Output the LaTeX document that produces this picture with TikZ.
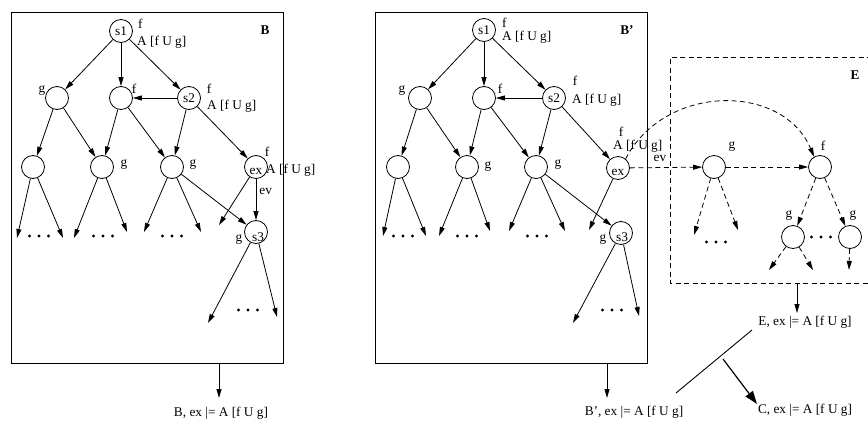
\documentclass[tikz,border=0pt]{standalone}
\usepackage{fontspec}
\setmainfont{Liberation Serif}
\usetikzlibrary{arrows.meta}
\begin{document}
\begin{tikzpicture}[x=1pt,y=-1pt,
  every node/.style={font=\fontsize{13.3}{15}\selectfont, inner sep=0pt},
  st/.style={circle, draw, line width=0.8pt, minimum size=23pt},
  lw/.style={anchor=west},
  bold/.style={font=\bfseries\fontsize{13.3}{15}\selectfont},
  arr/.style={line width=0.8pt, -{Triangle[length=9pt,width=5pt]}},
  darr/.style={arr, dash pattern=on 5pt off 3.5pt},
  frame/.style={line width=0.9pt},
  dots/.pic={\fill (-9.5pt,0pt) circle (1.6pt) (0pt,0pt) circle (1.6pt) (9.5pt,0pt) circle (1.6pt);}
]
\useasboundingbox (0,0) rectangle (868,423);

% ---------------- model B ----------------
\draw[frame] (11,12) rectangle (283,363);
\node[bold] (lB) at (265,30) {B};
\node[st] (s1) at (121,31) {s1};
\node[st] (gA) at (57,98) {};
\node[st] (fA) at (121,98) {};
\node[st] (s2) at (189,98) {s2};
\node[st] (a) at (33,167) {};
\node[st] (b) at (102,167) {};
\node[st] (c) at (172,167) {};
\node[st] (ex) at (256,167) {};
\node (ext) at (256,171) {ex};
\node[st] (s3) at (256,232) {};
\node (s3t) at (258,237) {s3};

\node[lw] (s1f) at (138,24) {f};
\node[lw] (s1p) at (137,42) {A [f U g]};
\node (gAl) at (42,91) {g};
\node (fAl) at (134,89) {f};
\node (s2f) at (209,89) {f};
\node[lw] (s2p) at (207,106) {A [f U g]};
\node (bl) at (124,165) {g};
\node (cl) at (193,165) {g};
\node (exf) at (267,152) {f};
\node[lw] (exp) at (266,170) {A [f U g]};
\node (s3l) at (239,240) {g};

\coordinate (a1) at (17,238);  \coordinate (a2) at (63,238);
\coordinate (b1) at (74,238);  \coordinate (b2) at (127,232);
\coordinate (c1) at (144,232); \coordinate (c2) at (201,232);
\coordinate (x1) at (219,225);
\coordinate (t1) at (208,323); \coordinate (t2) at (277,317);

\draw[arr] (s1) -- (gA);
\draw[arr] (s1) -- (fA);
\draw[arr] (s1) -- (s2);
\draw[arr] (s2) -- (fA);
\draw[arr] (gA) -- (a);
\draw[arr] (gA) -- (b);
\draw[arr] (fA) -- (b);
\draw[arr] (fA) -- (c);
\draw[arr] (s2) -- (c);
\draw[arr] (s2) -- (ex);
\draw[arr] (a) -- (a1);
\draw[arr] (a) -- (a2);
\draw[arr] (b) -- (b1);
\draw[arr] (b) -- (b2);
\draw[arr] (c) -- (c1);
\draw[arr] (c) -- (c2);
\draw[arr] (c) -- (s3);
\draw[arr] (ex) -- (x1);
\draw[arr] (ex) -- node[right=3pt, pos=0.3] (evl) {ev} (s3);
\draw[arr] (s3) -- (t1);
\draw[arr] (s3) -- (t2);
\pic at (39,236) {dots};
\pic at (103,236) {dots};
\pic at (172,236) {dots};
\pic at (248,310) {dots};

\coordinate (Bout) at (219,363);
\coordinate (Bin) at (219,398);
\draw[arr] (Bout) -- (Bin);
\node (resB) at (221,413) {B, ex |= A [f U g]};

% ---------------- model B' ----------------
\draw[frame] (375,12) rectangle (647,363);
\node[bold] (lB2) at (627,30) {B'};
\node[st] (s1b) at (484,30) {s1};
\node[st] (gB) at (420,98) {};
\node[st] (fB) at (484,98) {};
\node[st] (s2b) at (554,98) {s2};
\node[st] (ab) at (398,167) {};
\node[st] (bb) at (467,167) {};
\node[st] (cb) at (536,167) {};
\node[st] (exb) at (618,168) {};
\node (exbt) at (618,172) {ex};
\node[st] (s3b) at (621,233) {};
\node (s3bt) at (622,237) {s3};

\node[lw] (s1bf) at (502,23) {f};
\node[lw] (s1bp) at (502,37) {A [f U g]};
\node (gBl) at (402,91) {g};
\node (fBl) at (500,89) {f};
\node (s2bf) at (575,81) {f};
\node[lw] (s2bp) at (572,100) {A [f U g]};
\node (bbl) at (488,167) {g};
\node (cbl) at (558,165) {g};
\node (exbf) at (621,132) {f};
\node[lw] (exbp) at (613,146) {A [f U g]};
\node (evb) at (660,158) {ev};
\node (s3bl) at (603,240) {g};

\coordinate (ab1) at (383,236); \coordinate (ab2) at (426,236);
\coordinate (bb1) at (439,236); \coordinate (bb2) at (490,231);
\coordinate (cb1) at (509,231); \coordinate (cb2) at (565,231);
\coordinate (xb1) at (589,230);
\coordinate (tb1) at (573,323); \coordinate (tb2) at (639,316);

\draw[arr] (s1b) -- (gB);
\draw[arr] (s1b) -- (fB);
\draw[arr] (s1b) -- (s2b);
\draw[arr] (s2b) -- (fB);
\draw[arr] (gB) -- (ab);
\draw[arr] (gB) -- (bb);
\draw[arr] (fB) -- (bb);
\draw[arr] (fB) -- (cb);
\draw[arr] (s2b) -- (cb);
\draw[arr] (s2b) -- (exb);
\draw[arr] (ab) -- (ab1);
\draw[arr] (ab) -- (ab2);
\draw[arr] (bb) -- (bb1);
\draw[arr] (bb) -- (bb2);
\draw[arr] (cb) -- (cb1);
\draw[arr] (cb) -- (cb2);
\draw[arr] (cb) -- (s3b);
\draw[arr] (exb) -- (xb1);
\draw[arr] (s3b) -- (tb1);
\draw[arr] (s3b) -- (tb2);
\pic at (403,236) {dots};
\pic at (467,236) {dots};
\pic at (537,236) {dots};
\pic at (612,310) {dots};

\coordinate (B2out) at (607,363);
\coordinate (B2in) at (607,398);
\draw[arr] (B2out) -- (B2in);
\node (resB2) at (634,412) {B', ex |= A [f U g]};

% ---------------- environment E ----------------
\draw[frame, dash pattern=on 5pt off 3.5pt] (872,57) -- (670,57) -- (670,283) -- (872,283);
\node[bold] (lE) at (855,75) {E};
\node[st] (gE) at (714,167) {};
\node[st] (fE) at (820,167) {};
\node[st] (gE2) at (793,237) {};
\node[st] (gE3) at (850,237) {};
\node (gEl) at (732,147) {g};
\node (fEl) at (823,146) {f};
\node (gE2l) at (789,216) {g};
\node (gE3l) at (853,216) {g};

\coordinate (e1) at (694,235); \coordinate (e2) at (738,230);
\coordinate (e3) at (769,270); \coordinate (e4) at (813,270);
\coordinate (e5) at (849,270);

\draw[darr] (exb) -- (gE);
\draw[darr] (gE) -- (fE);
\draw[darr] (exb.50) .. controls (665,83) and (783,83) .. (fE.120);
\draw[darr] (gE) -- (e1);
\draw[darr] (gE) -- (e2);
\draw[darr] (fE) -- (gE2);
\draw[darr] (fE) -- (gE3);
\draw[darr] (gE2) -- (e3);
\draw[darr] (gE2) -- (e4);
\draw[darr] (gE3) -- (e5);
\pic at (716,242) {dots};
\pic at (821,237) {dots};

\coordinate (Eout) at (797,283);
\coordinate (Ein) at (797,313);
\draw[arr] (Eout) -- (Ein);
\node (resE) at (805,322) {E, ex |= A [f U g]};

% ---------------- composition rule ----------------
\coordinate (sp1) at (752,330);
\coordinate (sp2) at (676,393);
\draw[line width=0.9pt] (sp1) -- (sp2);
\coordinate (cfrom) at (723,359);
\coordinate (cto) at (757,404);
\draw[line width=1.2pt, -{Triangle[length=13pt,width=9pt]}] (cfrom) -- (cto);
\node (resC) at (805,410) {C, ex |= A [f U g]};
\end{tikzpicture}
\end{document}
